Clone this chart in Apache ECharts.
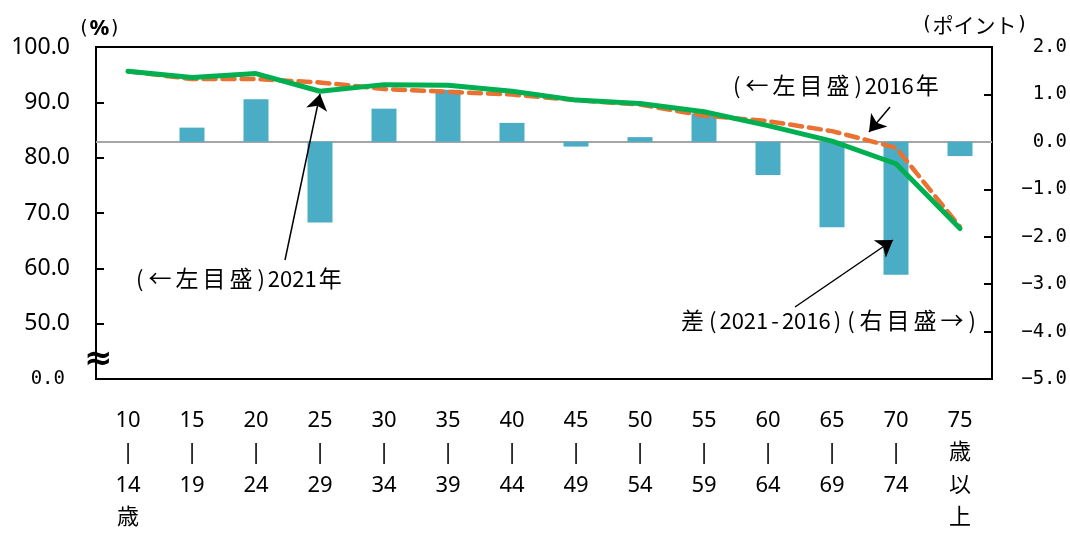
<!DOCTYPE html>
<html>
<head>
<meta charset="utf-8">
<script src="https://cdn.jsdelivr.net/npm/echarts@6/dist/echarts.min.js"></script>
<style>
  html, body { margin: 0; padding: 0; background: #fff; }
  #chart { width: 1070px; height: 534px; }
</style>
</head>
<body>
<div id="chart"></div>
<script>
// age groups (x axis)
const ageGroups = ['10\n|\n14\n歳', '15\n|\n19', '20\n|\n24', '25\n|\n29', '30\n|\n34', '35\n|\n39', '40\n|\n44',
  '45\n|\n49', '50\n|\n54', '55\n|\n59', '60\n|\n64', '65\n|\n69', '70\n|\n74', '75\n歳\n以\n上'];

// left scale (%)
const rate2021 = [95.6, 94.5, 95.2, 92.0, 93.2, 93.1, 92.0, 90.4, 89.8, 88.3, 85.8, 83.0, 78.9, 67.2];
const rate2016 = [95.6, 94.2, 94.2, 93.6, 92.4, 91.9, 91.4, 90.4, 89.6, 87.6, 86.6, 84.8, 81.8, 67.5];

// right scale (points)
const diff = [0.0, 0.3, 0.9, -1.7, 0.7, 1.1, 0.4, -0.1, 0.1, 0.6, -0.7, -1.8, -2.8, -0.3];

const leftTicks = { min: 40, max: 100, interval: 10 };
const rightTicks = { min: -5, max: 2, interval: 1 };

const jp = '"Noto Sans CJK JP", sans-serif';
const mono = '"DejaVu Sans Mono", monospace';

// gothic-like look: half-width ascii, spaced-out full-width glyphs
function gothic(str) {
  const rich = {
    a: { fontFamily: jp, fontSize: 22, color: '#000' },
    p: { fontFamily: jp, fontSize: 22, color: '#000', padding: [0, 3, 0, 3] },
    c: { fontFamily: jp, fontSize: 23, color: '#000', padding: [0, 2, 0, 2] }
  };
  const text = Array.from(str).map(ch => {
    const key = /[()\-]/.test(ch) ? 'p' : (ch.charCodeAt(0) < 128 ? 'a' : 'c');
    return '{' + key + '|' + ch + '}';
  }).join('');
  return { text, rich };
}

const note2016 = gothic('(←左目盛)2016年');
const note2021 = gothic('(←左目盛)2021年');
const noteDiff = gothic('差(2021-2016)(右目盛→)');

const chart = echarts.init(document.getElementById('chart'));

const option = {
  animation: false,
  grid: {
    left: 96, right: 77, top: 47, bottom: 146,
    show: true, borderColor: '#000', borderWidth: 2, backgroundColor: 'transparent'
  },
  xAxis: {
    type: 'category',
    data: ageGroups,
    boundaryGap: true,
    axisLine: { lineStyle: { color: '#000', width: 2 } },
    axisTick: { inside: true, length: 8, lineStyle: { color: '#000', width: 2 } },
    axisLabel: {
      interval: 0, margin: 25, color: '#000',
      fontSize: 22, lineHeight: 32.5, fontFamily: '"Noto Sans", "Noto Sans CJK JP", sans-serif',
      verticalAlign: 'top'
    }
  },
  yAxis: [
    {
      type: 'value',
      min: leftTicks.min, max: leftTicks.max, interval: leftTicks.interval,
      axisLine: { show: true, lineStyle: { color: '#000', width: 2 } },
      axisTick: { show: true, inside: true, length: 8, lineStyle: { color: '#000', width: 2 } },
      splitLine: { show: false },
      axisLabel: {
        margin: 26, color: '#000', fontSize: 23, fontFamily: '"Noto Sans", sans-serif',
        formatter: v => v === leftTicks.min ? '{b|0.0}' : v.toFixed(1),
        rich: { b: { fontSize: 19, fontFamily: mono, color: '#000', padding: [0, 5, 0, 0] } }
      }
    },
    {
      type: 'value',
      min: rightTicks.min, max: rightTicks.max, interval: rightTicks.interval,
      position: 'right',
      axisLine: { show: true, lineStyle: { color: '#000', width: 2 } },
      axisTick: { show: true, inside: true, length: 8, lineStyle: { color: '#000', width: 2 } },
      splitLine: { show: false },
      axisLabel: {
        margin: 75, align: 'right', color: '#000', fontSize: 19, fontFamily: mono,
        formatter: v => v.toFixed(1).replace('-', '−')
      }
    }
  ],
  series: [
    {
      name: '差',
      type: 'bar',
      yAxisIndex: 1,
      data: diff,
      barWidth: 25,
      itemStyle: { color: '#4BACC6' },
      z: 2,
      markLine: {
        silent: true, symbol: 'none', label: { show: false },
        lineStyle: { color: '#A6A6A6', width: 2, type: 'solid' },
        data: [{ yAxis: 0 }],
        z: 1
      }
    },
    {
      name: '2016年',
      type: 'line',
      data: rate2016,
      symbol: 'none',
      lineStyle: { color: '#E97132', width: 4.5, type: [12, 7], cap: 'round' },
      z: 3
    },
    {
      name: '2021年',
      type: 'line',
      data: rate2021,
      symbol: 'none',
      lineStyle: { color: '#00B050', width: 5, cap: 'round', join: 'round' },
      z: 4,
      markLine: {
        silent: true,
        symbol: ['none', 'arrow'],
        symbolSize: 16,
        label: { show: false },
        lineStyle: { color: '#000', width: 1.5, type: 'solid' },
        data: [
          [{ x: 285, y: 260 }, { x: 320, y: 94 }],
          [{ x: 890, y: 107 }, { x: 869, y: 132 }],
          [{ x: 795, y: 307 }, { x: 893, y: 240 }]
        ]
      }
    }
  ],
  graphic: [
    {
      type: 'text', left: 78, top: 18,
      style: {
        text: '{a|(}{p|%}{a|)}',
        rich: {
          a: { fontFamily: mono, fontSize: 19, color: '#000' },
          p: { fontFamily: '"Noto Sans", sans-serif', fontWeight: 'bold', fontSize: 22, color: '#000' }
        }
      }
    },
    {
      type: 'text', left: 921, top: 15,
      style: {
        text: '{a|(}{c|ポイント}{a|)}',
        rich: {
          a: { fontFamily: mono, fontSize: 19, color: '#000' },
          c: { fontFamily: jp, fontSize: 21, color: '#000' }
        }
      }
    },
    { type: 'text', left: 733, top: 74, style: note2016 },
    { type: 'text', left: 136, top: 267, style: note2021 },
    { type: 'text', left: 681, top: 309, style: noteDiff },
    { type: 'text', left: 84, top: 343, style: { text: '≈', font: 'bold 34px "DejaVu Sans", sans-serif', fill: '#000' } }
  ]
};

chart.setOption(option);
</script>
</body>
</html>
